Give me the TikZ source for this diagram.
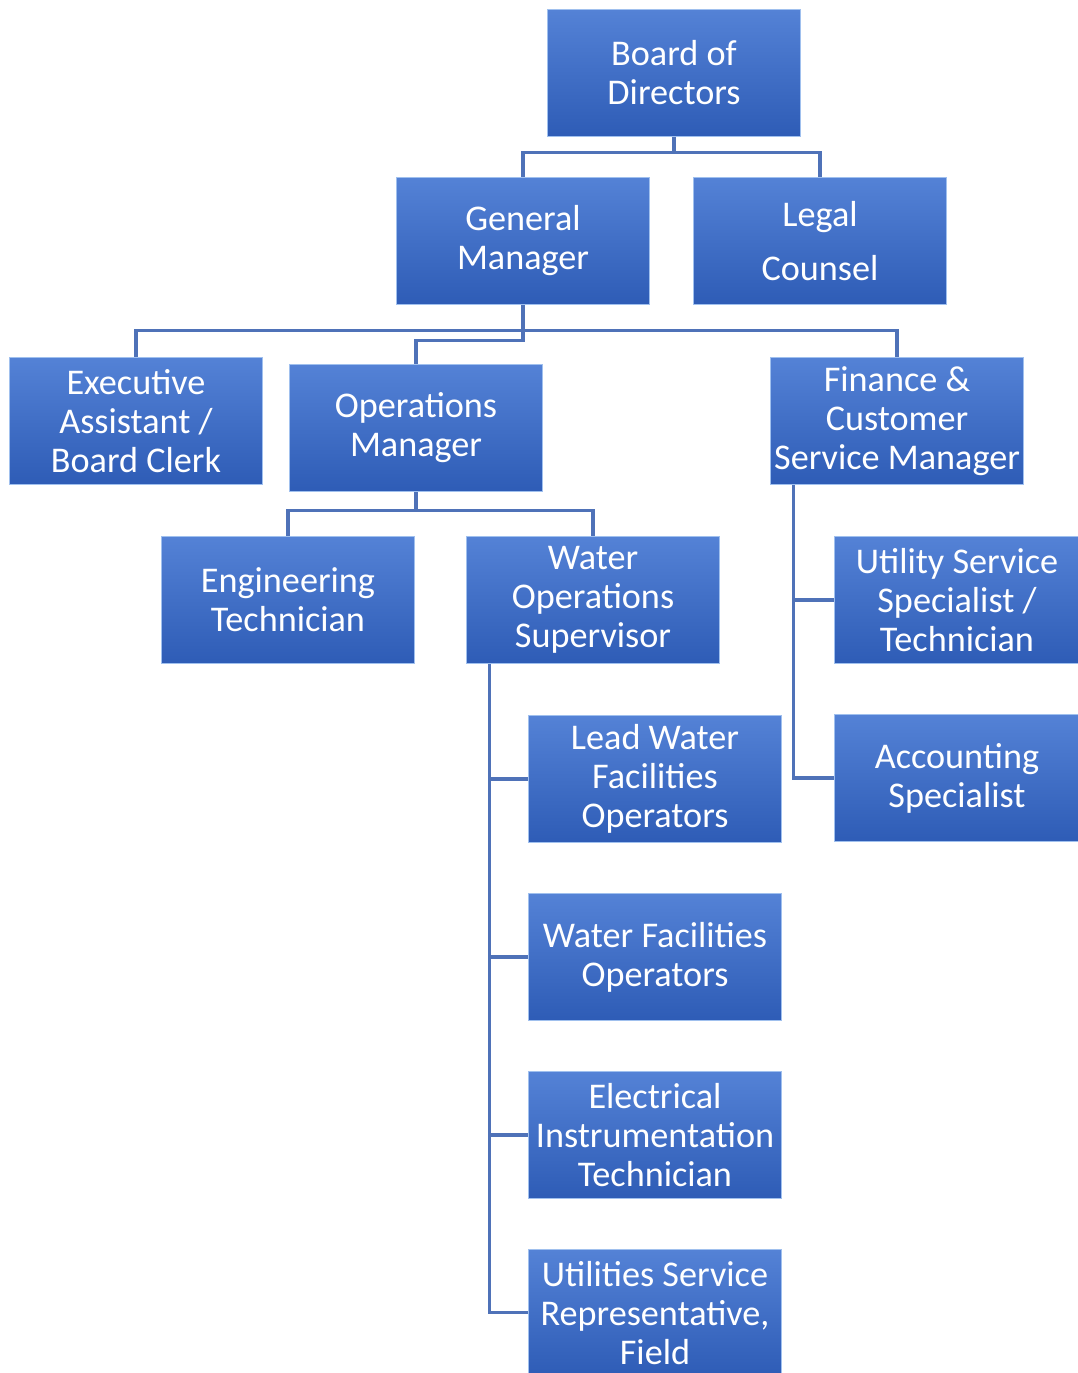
\documentclass[tikz,border=0pt]{standalone}
\usepackage{fontspec}
\setmainfont{Carlito}
\usetikzlibrary{positioning}

\definecolor{boxtop}{RGB}{84,130,214}
\definecolor{boxbot}{RGB}{46,92,182}
\definecolor{boxedge}{RGB}{160,192,238}
\definecolor{linkblue}{RGB}{79,114,184}

\tikzset{
  post/.style={rectangle, top color=boxtop, bottom color=boxbot, draw=boxedge,
    line width=0.8pt, minimum width=5.06cm, minimum height=2.54cm, inner sep=0pt,
    align=center, text=white, font=\fontsize{20.6}{22.2}\selectfont},
  link/.style={draw=linkblue, line width=1.8pt}
}

\begin{document}
\begin{tikzpicture}[x=0.02cm,y=-0.02cm,node distance=3.56cm,on grid]
\useasboundingbox (0,0) rectangle (1078,1373);
\node[post] (bod) at (674,73) {Board of\\Directors};
\node[post] (gm) at (523,241) {General\\Manager};
\node[post] (legal) at (820,241) {Legal\\[9pt]Counsel};
\node[post] (exec) at (136,421) {Executive\\Assistant /\\Board Clerk};
\node[post] (opsm) at (416,428) {Operations\\Manager};
\node[post] (fin) at (897,421) {Finance \&\\Customer\\Service Manager};
\node[post] (eng) at (288,600) {Engineering\\Technician};
\node[post] (wos) at (593,600) {Water\\Operations\\Supervisor};
\node[post, minimum width=4.9cm] (uss) at (957,600) {Utility Service\\Specialist /\\Technician};
\node[post, minimum width=4.9cm] (acc) [below=of uss] {Accounting\\Specialist};
\node[post] (lwfo) at (655,779) {Lead Water\\Facilities\\Operators};
\node[post] (wfo) [below=of lwfo] {Water Facilities\\Operators};
\node[post] (eit) [below=of wfo] {Electrical\\Instrumentation\\Technician};
\node[post] (usr) [below=of eit] {Utilities Service\\Representative,\\Field};

% board
\draw[link] (bod.south) -- ++(0,15) -| (gm.north);
\draw[link] (bod.south) -- ++(0,15) -| (legal.north);
% general manager
\draw[link] (gm.south) -- ++(0,25) -| (exec.north);
\draw[link] (gm.south) -- ++(0,25) -| (fin.north);
\draw[link] (gm.south) -- ++(0,35) -| (opsm.north);
% operations
\draw[link] (opsm.south) -- ++(0,18) -| (eng.north);
\draw[link] (opsm.south) -- ++(0,18) -| (wos.north);
% finance
\draw[link] ([xshift=0.48cm]fin.south west) |- (uss.west);
\draw[link] ([xshift=0.48cm]fin.south west) |- (acc.west);
% water operations
\draw[link] ([xshift=0.48cm]wos.south west) |- (lwfo.west);
\draw[link] ([xshift=0.48cm]wos.south west) |- (wfo.west);
\draw[link] ([xshift=0.48cm]wos.south west) |- (eit.west);
\draw[link] ([xshift=0.48cm]wos.south west) |- (usr.west);
\end{tikzpicture}
\end{document}
